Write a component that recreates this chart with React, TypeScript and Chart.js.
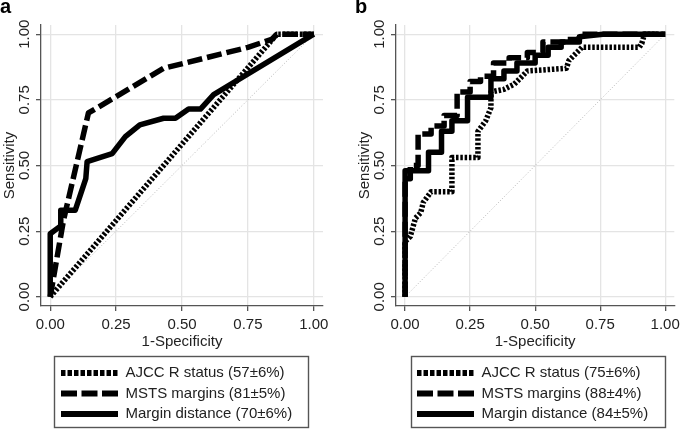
import React, { useEffect, useRef } from 'react';
import { Chart, registerables } from 'chart.js';

Chart.register(...registerables);

// ---------- data ----------
const tickValues = [0, 0.25, 0.5, 0.75, 1];
const xTitle = '1-Specificity';
const yTitle = 'Sensitivity';
const seriesNames = ['AJCC R status', 'MSTS margins', 'Margin distance'];
const aucA = ['57±6%', '81±5%', '70±6%'];
const aucB = ['75±6%', '88±4%', '84±5%'];

// Panel a
const aAjccX = [0, 0.86, 1];
const aAjccY = [0, 1, 1];
const aMstsX = [0, 0.05, 0.145, 0.43, 0.75, 0.84, 0.86, 1];
const aMstsY = [0, 0.29, 0.7, 0.87, 0.95, 0.98, 1, 1];
const aMarginX = [0, 0, 0.04, 0.04, 0.095, 0.135, 0.14, 0.235, 0.285, 0.34, 0.43, 0.475, 0.525, 0.57, 0.62, 1];
const aMarginY = [0, 0.24, 0.27, 0.33, 0.33, 0.45, 0.515, 0.545, 0.61, 0.655, 0.68, 0.68, 0.715, 0.715, 0.77, 1];

// Panel b
const bAjccX = [0, 0, 0.02, 0.04, 0.06, 0.07, 0.1, 0.18, 0.18, 0.28, 0.28, 0.31, 0.33, 0.33, 0.38, 0.42, 0.45, 0.47, 0.62, 0.63, 0.66, 0.68, 0.9, 0.91, 0.92, 1];
const bAjccY = [0, 0.21, 0.23, 0.3, 0.32, 0.36, 0.4, 0.4, 0.53, 0.53, 0.63, 0.67, 0.72, 0.78, 0.79, 0.81, 0.84, 0.86, 0.87, 0.9, 0.93, 0.95, 0.95, 0.965, 1, 1];
const bMstsX = [0, 0, 0.02, 0.02, 0.05, 0.05, 0.1, 0.1, 0.15, 0.15, 0.2, 0.2, 0.25, 0.25, 0.29, 0.29, 0.34, 0.34, 0.4, 0.4, 0.47, 0.47, 0.53, 0.53, 0.62, 0.62, 0.67, 0.67, 1];
const bMstsY = [0, 0.45, 0.45, 0.5, 0.5, 0.62, 0.62, 0.65, 0.65, 0.69, 0.69, 0.78, 0.78, 0.82, 0.82, 0.84, 0.84, 0.89, 0.89, 0.91, 0.91, 0.93, 0.93, 0.97, 0.97, 0.98, 0.98, 1, 1];
const bMarginX = [0, 0, 0.09, 0.09, 0.14, 0.14, 0.18, 0.18, 0.24, 0.24, 0.33, 0.33, 0.38, 0.38, 0.43, 0.43, 0.5, 0.5, 0.55, 0.55, 0.6, 0.6, 0.67, 0.67, 0.76, 1];
const bMarginY = [0, 0.48, 0.48, 0.55, 0.55, 0.63, 0.63, 0.67, 0.67, 0.76, 0.76, 0.83, 0.83, 0.86, 0.86, 0.89, 0.89, 0.92, 0.92, 0.95, 0.95, 0.97, 0.97, 0.99, 1, 1];

// reference diagonal
const refX = [0, 1];
const refY = [0, 1];

// ---------- helpers ----------
const pts = (xs: number[], ys: number[]) => xs.map((x, i) => ({ x, y: ys[i] }));

Chart.defaults.font.family = '"Liberation Sans", Arial, sans-serif';
Chart.defaults.font.size = 15;
Chart.defaults.color = '#222';

type PanelProps = {
  label: string;
  left: number;
  width: number;
  padRight: number;
  legendLeft: number;
  frameLeft: number;
  frameWidth: number;
  series: { x: number[]; y: number[] }[];
  auc: string[];
};

const AXIS = '#555';
const GRID = '#e4e4e4';

function Panel(p: PanelProps) {
  const ref = useRef<HTMLCanvasElement | null>(null);
  useEffect(() => {
    if (!ref.current) return;
    const styles = [
      { dash: [2.5, 1.8], legendDash: [4.5, 2], order: 2 },
      { dash: [15, 5], legendDash: [16, 4.5], order: 1 },
      { dash: [], legendDash: [], order: 0 },
    ];
    const datasets: any[] = p.series.map((s, i) => ({
      label: `${seriesNames[i]} (${p.auc[i]})`,
      data: pts(s.x, s.y),
      showLine: true,
      borderColor: '#000',
      backgroundColor: '#000',
      borderWidth: 5.5,
      borderDash: styles[i].dash,
      borderCapStyle: 'butt',
      borderJoinStyle: 'round',
      pointRadius: 0,
      fill: false,
      order: styles[i].order,
      legendDash: styles[i].legendDash,
    }));
    datasets.push({
      data: pts(refX, refY),
      showLine: true,
      borderColor: '#b5b5b5',
      borderWidth: 1,
      borderDash: [1, 2],
      pointRadius: 0,
      fill: false,
      order: 3,
    });

    const axisCommon = (title: string) => ({
      type: 'linear',
      min: -0.035,
      max: 1.035,
      afterBuildTicks: (scale: any) => {
        scale.ticks = tickValues.map((v) => ({ value: v }));
      },
      grid: {
        color: GRID,
        lineWidth: 1.3,
        tickColor: AXIS,
        tickLength: 5,
        tickWidth: 1.3,
        drawTicks: true,
      },
      border: { display: true, color: AXIS, width: 1.3 },
      title: { display: true, text: title, color: '#222', font: { size: 15 } },
    });

    const framePlugin = {
      id: 'legendFrame',
      afterLayout(chart: any) {
        const lg = chart.legend;
        if (lg) {
          lg.left = p.legendLeft;
          lg.width = 240;
          lg.right = p.legendLeft + 240;
        }
      },
      afterDraw(chart: any) {
        const lg = chart.legend;
        if (!lg) return;
        const ctx = chart.ctx;
        ctx.save();
        ctx.strokeStyle = AXIS;
        ctx.lineWidth = 1.4;
        ctx.setLineDash([]);
        ctx.strokeRect(p.frameLeft + 0.5, lg.top - 4 + 0.5, p.frameWidth, 71);
        ctx.restore();
      },
    };

    const chart = new Chart(ref.current, {
      type: 'scatter',
      data: { datasets },
      options: {
        responsive: false,
        animation: false,
        events: [],
        layout: { padding: { top: 0, bottom: 0, left: 0, right: p.padRight } },
        scales: {
          x: {
            ...axisCommon(xTitle),
            position: 'bottom',
            ticks: {
              color: '#222',
              padding: 5,
              maxRotation: 0,
              callback: (v: any) => Number(v).toFixed(2),
            },
            title: { display: true, text: xTitle, color: '#222', font: { size: 15 }, padding: { top: 0, bottom: 9 } },
            afterFit: (s: any) => {
              s.height = 54;
            },
          } as any,
          y: {
            ...axisCommon(yTitle),
            position: 'left',
            ticks: {
              color: '#222',
              padding: -3,
              minRotation: 90,
              maxRotation: 90,
              crossAlign: 'center',
              callback: (v: any) => Number(v).toFixed(2),
            },
            title: { display: true, text: yTitle, color: '#222', font: { size: 15 }, padding: { top: 1, bottom: 0 } },
            afterFit: (s: any) => {
              s.width = 41;
            },
          } as any,
        },
        plugins: {
          tooltip: { enabled: false },
          title: {
            display: true,
            text: p.label,
            align: 'start',
            color: '#000',
            font: { size: 20, weight: 'bold', lineHeight: 1 },
            padding: { top: -2.7, bottom: 7.7 },
          },
          legend: {
            display: true,
            position: 'bottom',
            align: 'start',
            maxHeight: 69,
            labels: {
              usePointStyle: true,
              pointStyleWidth: 57,
              padding: 5.5,
              color: '#222',
              font: { size: 15 },
              generateLabels: (c: any) =>
                c.data.datasets
                  .map((d: any, i: number) => ({ d, i }))
                  .filter(({ d }: any) => !!d.label)
                  .map(({ d, i }: any) => ({
                    text: d.label,
                    fillStyle: 'rgba(0,0,0,0)',
                    strokeStyle: '#000',
                    lineWidth: 6,
                    lineDash: d.legendDash,
                    lineCap: 'butt',
                    pointStyle: 'line',
                    hidden: false,
                    datasetIndex: i,
                    fontColor: '#222',
                  })),
            },
          },
        },
      } as any,
      plugins: [framePlugin],
    });
    return () => chart.destroy();
  }, []);
  return (
    <canvas
      ref={ref}
      width={p.width}
      height={429}
      style={{ position: 'absolute', left: p.left, top: 0, width: p.width, height: 429 }}
    />
  );
}

export default function App() {
  return (
    <div style={{ position: 'absolute', left: 0, top: 0, width: 685, height: 429, background: '#fff', overflow: 'hidden' }}>
      <Panel
        label="a"
        left={0}
        width={342}
        padRight={19}
        legendLeft={55.5}
        frameLeft={54}
        frameWidth={254}
        series={[
          { x: aAjccX, y: aAjccY },
          { x: aMstsX, y: aMstsY },
          { x: aMarginX, y: aMarginY },
        ]}
        auc={aucA}
      />
      <Panel
        label="b"
        left={355}
        width={330}
        padRight={6}
        legendLeft={56.5}
        frameLeft={56}
        frameWidth={254}
        series={[
          { x: bAjccX, y: bAjccY },
          { x: bMstsX, y: bMstsY },
          { x: bMarginX, y: bMarginY },
        ]}
        auc={aucB}
      />
    </div>
  );
}
